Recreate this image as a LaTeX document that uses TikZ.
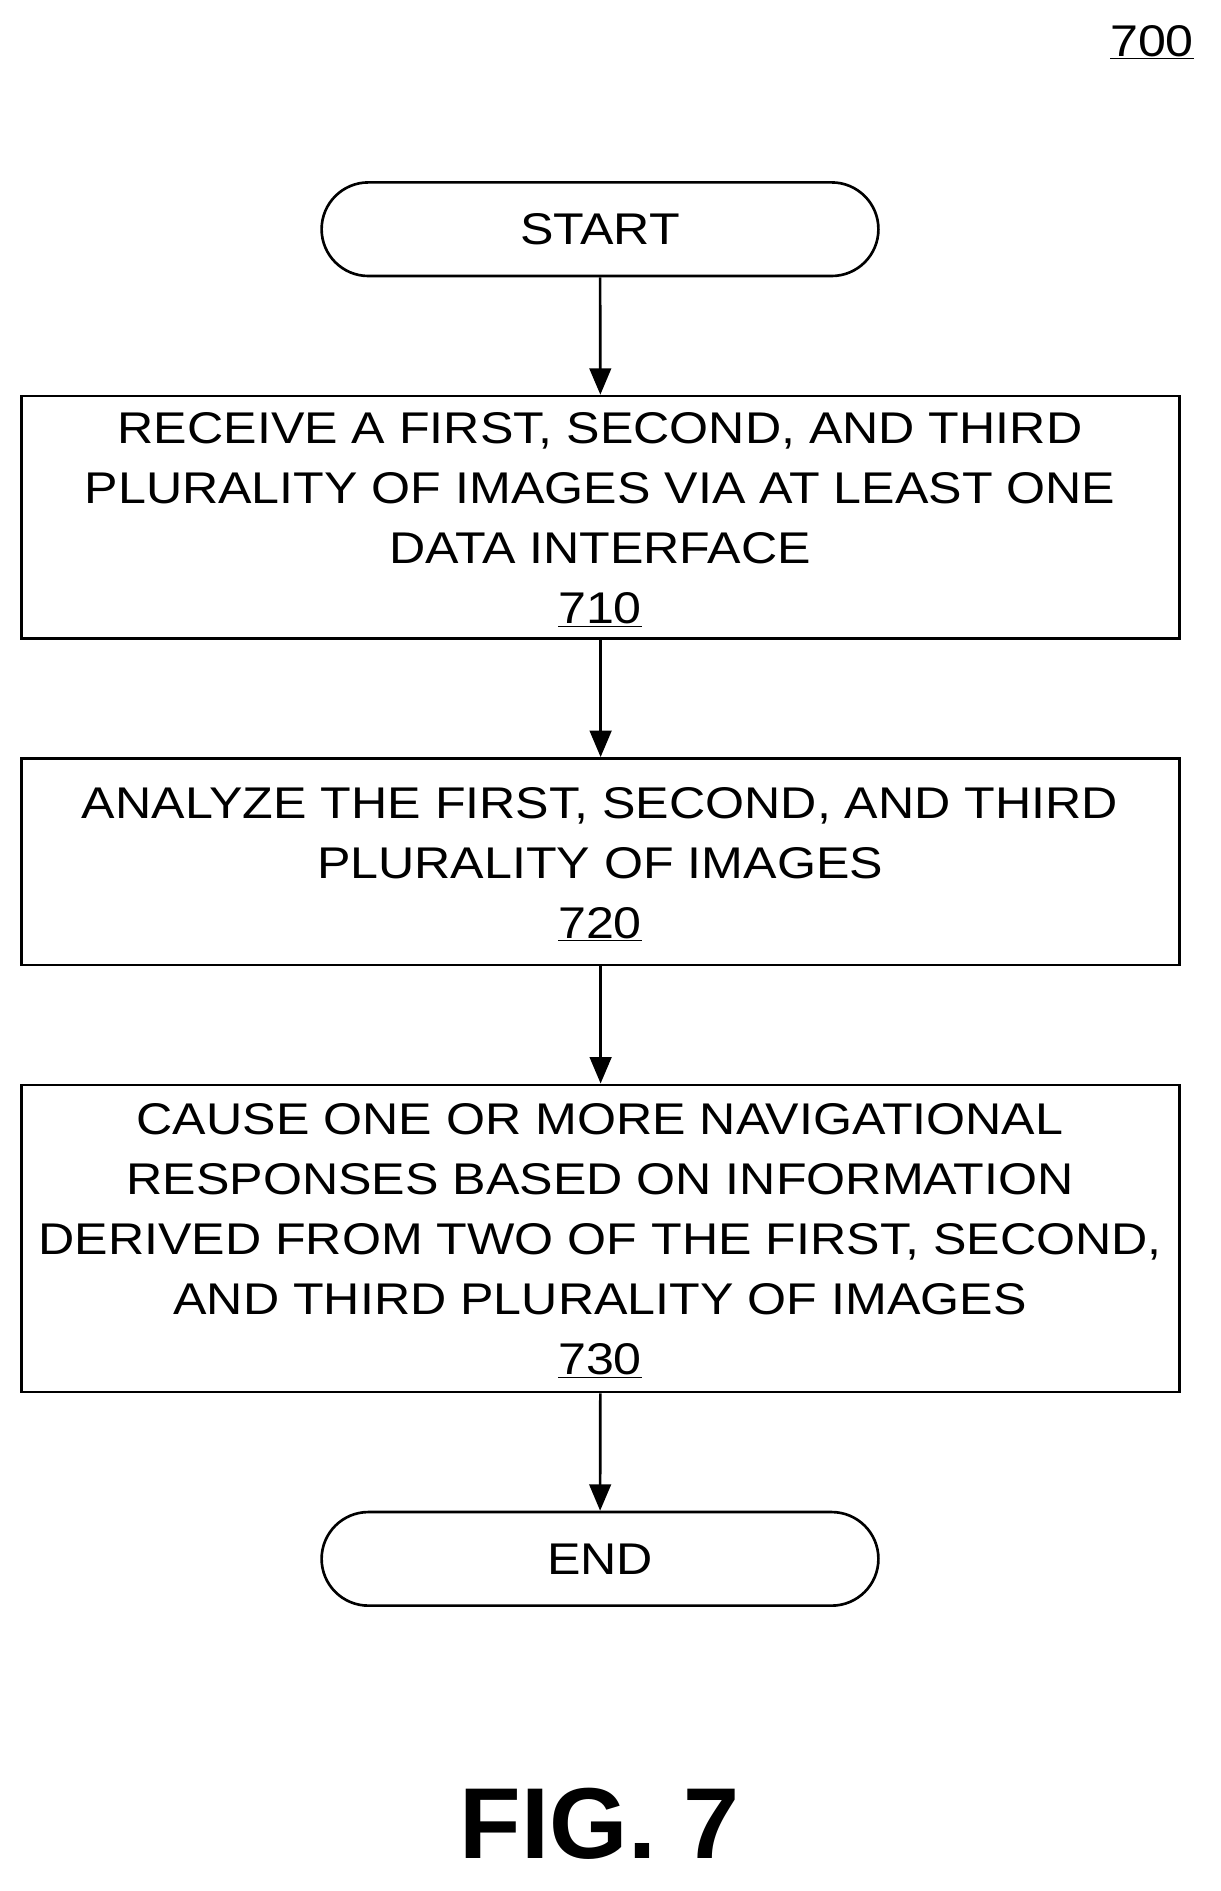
\documentclass[tikz,border=0pt]{standalone}
\usepackage{fontspec}
\setmainfont{Liberation Sans}
\newfontfamily\widefont[FakeStretch=1.13]{Liberation Sans}
\usetikzlibrary{arrows.meta}
\begin{document}
\begin{tikzpicture}[x=1pt,y=-1pt,
  txt/.style={font=\widefont\fontsize{37}{50}\selectfont,align=center,inner sep=0},
  box/.style={draw,line width=2.2pt},
  arr/.style={line width=2.2pt,-{Triangle[length=22pt,width=18pt]}}]
\useasboundingbox (0,0) rectangle (1016.7,1575.8);
\node[txt] (num) at (960,35) {\underline{700}};
\node[box,rounded corners=39pt,minimum width=464pt,minimum height=78pt,txt] (start) at (500,191) {START};
\node[box,minimum width=965pt,minimum height=202pt] (b1) at (500.5,431) {};
\node[txt] at (500,433) {RECEIVE A FIRST, SECOND, AND THIRD\\PLURALITY OF IMAGES VIA AT LEAST ONE\\DATA INTERFACE\\\underline{710}};
\node[box,minimum width=965pt,minimum height=172pt] (b2) at (500.5,718) {};
\node[txt] at (500,720) {ANALYZE THE FIRST, SECOND, AND THIRD\\PLURALITY OF IMAGES\\\underline{720}};
\node[box,minimum width=965pt,minimum height=256pt] (b3) at (500.5,1032) {};
\node[txt] at (500,1034) {CAUSE ONE OR MORE NAVIGATIONAL\\RESPONSES BASED ON INFORMATION\\DERIVED FROM TWO OF THE FIRST, SECOND,\\AND THIRD PLURALITY OF IMAGES\\\underline{730}};
\node[box,rounded corners=39pt,minimum width=464pt,minimum height=78pt,txt] (end) at (500,1299) {END};
\node[font=\bfseries\fontsize{84}{90}\selectfont,inner sep=0] (fig) at (500,1520) {FIG. 7};
\draw[arr] (start) -- (b1);
\draw[arr] (b1) -- (b2);
\draw[arr] (b2) -- (b3);
\draw[arr] (b3) -- (end);
\end{tikzpicture}
\end{document}
